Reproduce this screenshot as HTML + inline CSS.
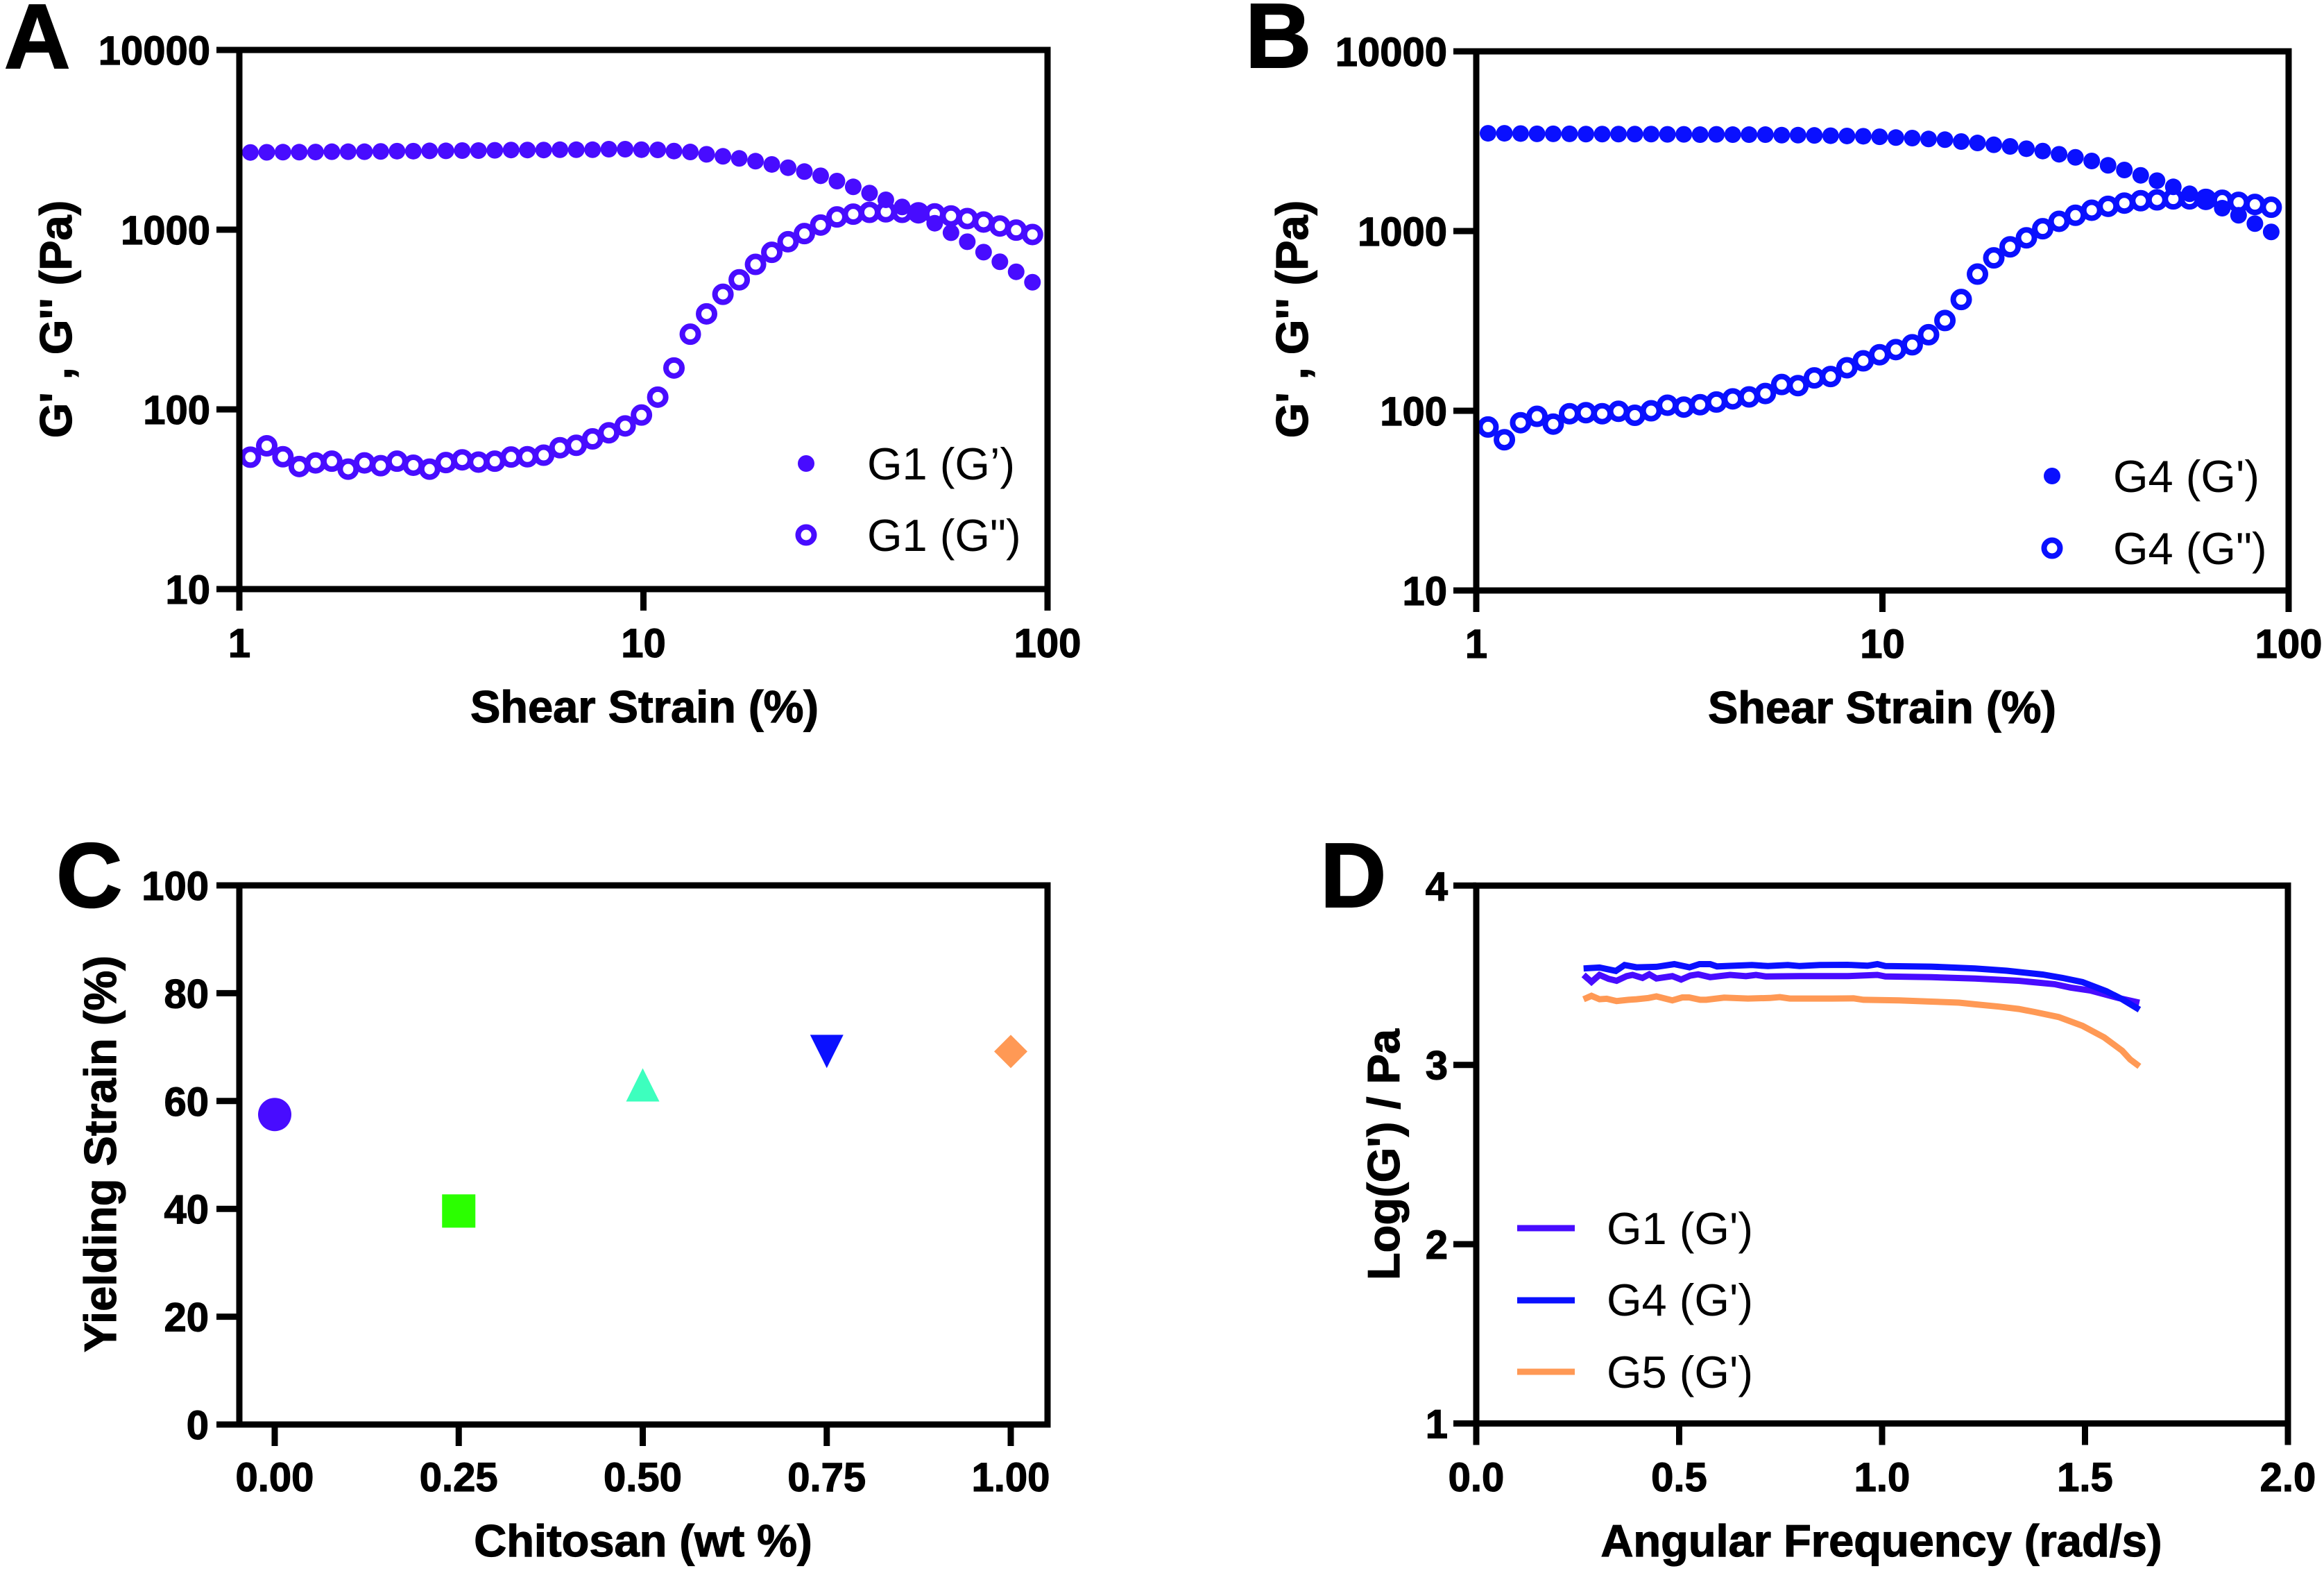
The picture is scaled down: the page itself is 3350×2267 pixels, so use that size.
<!DOCTYPE html>
<html lang="en">
<head>
<meta charset="utf-8">
<title>Rheology of chitosan hydrogels</title>
<style>
  html, body { margin: 0; padding: 0; background: #ffffff; }
  svg { display: block; }
  text { font-family: "Liberation Sans", Arial, sans-serif; fill: #000000; }
  .panel-letter { font-size: 132px; font-weight: 700; stroke: #000000; stroke-width: 2; }
  .axis-title { font-size: 65px; font-weight: 700; text-anchor: middle; stroke: #000000; stroke-width: 1.2; }
  .tick-label { font-size: 58px; font-weight: 700; stroke: #000000; stroke-width: 1.2; }
  .legend-label { font-size: 65px; font-weight: 400; }
  .frame { fill: none; stroke: #000000; stroke-width: 9; }
</style>
</head>
<body>
<svg id="figure" xmlns="http://www.w3.org/2000/svg" width="3350" height="2267" viewBox="0 0 3350 2267">
  <rect x="0" y="0" width="3350" height="2267" fill="#ffffff"/>

  <g id="panel-a">
    <text class="panel-letter" x="6" y="98">A</text>
    <text class="axis-title" x="929" y="1041">Shear Strain (%)</text>
    <text class="axis-title" transform="translate(103 460) rotate(-90)">G' , G'' (Pa)</text>
    <circle cx="1162" cy="668" r="12" fill="#480cff"/>
    <text class="legend-label" x="1250" y="691">G1 (G’)</text>
    <circle cx="1162" cy="771" r="11.5" fill="none" stroke="#480cff" stroke-width="8"/>
    <text class="legend-label" x="1250" y="794">G1 (G")</text>
  </g>

  <g id="panel-b">
    <text class="panel-letter" x="1795" y="97">B</text>
    <text class="axis-title" x="2713" y="1042">Shear Strain (%)</text>
    <text class="axis-title" transform="translate(1885 460) rotate(-90)">G' , G'' (Pa)</text>
    <circle cx="2958" cy="686" r="12" fill="#0a10ff"/>
    <text class="legend-label" x="3046" y="709">G4 (G')</text>
    <circle cx="2958" cy="790" r="11.5" fill="none" stroke="#0a10ff" stroke-width="8"/>
    <text class="legend-label" x="3046" y="813">G4 (G")</text>
  </g>

  <g id="panel-c">
    <text class="panel-letter" x="81" y="1307">C</text>
    <text class="axis-title" x="927" y="2243">Chitosan (wt %)</text>
    <text class="axis-title" transform="translate(167 1663) rotate(-90)">Yielding Strain (%)</text>
  </g>

  <g id="panel-d">
    <text class="panel-letter" x="1903" y="1307">D</text>
    <text class="axis-title" x="2712" y="2243">Angular Frequency (rad/s)</text>
    <text class="axis-title" transform="translate(2017 1664) rotate(-90)">Log(G') / Pa</text>
    <line x1="2187" y1="1770" x2="2270" y2="1770" stroke="#480cff" stroke-width="9"/>
    <text class="legend-label" x="2316" y="1793">G1 (G')</text>
    <line x1="2187" y1="1874" x2="2270" y2="1874" stroke="#0a10ff" stroke-width="9"/>
    <text class="legend-label" x="2316" y="1896">G4 (G')</text>
    <line x1="2187" y1="1977" x2="2270" y2="1977" stroke="#ff9955" stroke-width="9"/>
    <text class="legend-label" x="2316" y="2000">G5 (G')</text>
  </g>
</svg>

<script>
// ---------- Panel A data ----------
const strainA = [1.065,1.169,1.282,1.407,1.544,1.694,1.859,2.040,2.238,2.456,2.695,2.957,3.245,3.561,3.907,4.287,4.704,5.162,5.664,6.215,6.82,7.483,8.212,9.011,9.887,10.85,11.9,13.06,14.33,15.73,17.26,18.94,20.78,22.8,25.02,27.45,30.12,33.05,36.27,39.8,43.67,47.92,52.58,57.69,63.3,69.46,76.22,83.63,91.77];
const storageG1 = [2690,2695,2700,2700,2705,2715,2715,2715,2725,2735,2735,2745,2745,2755,2755,2765,2775,2775,2775,2785,2785,2785,2805,2805,2787,2780,2738,2706,2627,2559,2492,2405,2307,2212,2105,1995,1863,1731,1598,1466,1338,1241,1086,962,857,750,663,583,510];
const lossG1 = [54.2,62.7,54.5,48.1,50.4,51.5,46.5,50.4,48.6,51.5,48.9,46.5,50.6,52.4,50.9,51.5,54.3,54.5,55.6,61.2,63.1,68.5,74.1,80.9,93,117,170,262,340,437,526,641,748,857,951,1061,1177,1220,1249,1257,1249,1241,1224,1192,1153,1103,1048,994,940];

// ---------- Panel B data ----------
const strainB = [1.069,1.173,1.286,1.411,1.547,1.697,1.862,2.042,2.240,2.457,2.695,2.956,3.243,3.557,3.902,4.280,4.695,5.150,5.649,6.196,6.797,7.455,8.178,8.970,9.840,10.79,11.84,12.99,14.25,15.63,17.14,18.80,20.62,22.62,24.81,27.22,29.86,32.75,35.93,39.41,43.23,47.42,52.01,57.05,62.58,68.65,75.30,82.60,90.60];
const storageG4 = [3500,3500,3488,3476,3476,3476,3464,3464,3464,3464,3464,3452,3452,3440,3452,3440,3440,3440,3417,3417,3405,3393,3382,3370,3347,3312,3291,3254,3225,3148,3092,3020,2958,2872,2787,2675,2572,2455,2321,2187,2042,1908,1762,1612,1501,1341,1224,1100,989];
const lossG4 = [81.2,69.0,85.8,93.1,84.3,96.3,97.6,96.3,99.3,94.4,100,107.4,104.8,108.1,111.9,116.5,119.4,124.8,140,138,152.4,155.1,173.6,189.7,205,219,233,265,318,416,576,709,817,917,1030,1133,1224,1306,1373,1431,1475,1492,1510,1510,1501,1483,1444,1406,1357];

// ---------- Panel C data ----------
const chitosanContent = [0, 0.25, 0.5, 0.75, 1];
const yieldingStrain = [57.5, 39.6, 63, 69.2, 69.2];

// ---------- Panel D data ----------
const freqG1 = [0.2644,0.2840,0.3037,0.3262,0.3458,0.3704,0.3851,0.4096,0.4263,0.4439,0.4832,0.5048,0.5273,0.5469,0.5764,0.6254,0.6647,0.6892,0.7137,0.7971,0.9148,0.9884,1.008,1.1208,1.2287,1.3367,1.425,1.4642,1.5133,1.5819,1.634];
const logStorageG1 = [3.502,3.463,3.502,3.480,3.469,3.495,3.502,3.485,3.505,3.482,3.495,3.476,3.498,3.505,3.489,3.502,3.495,3.502,3.493,3.495,3.495,3.502,3.493,3.489,3.482,3.469,3.450,3.431,3.415,3.373,3.347];
const freqG4 = [0.2644,0.3037,0.3439,0.3655,0.3949,0.4439,0.4881,0.5254,0.5499,0.5764,0.5931,0.6794,0.7186,0.7677,0.7971,0.8462,0.9148,0.9639,0.9884,1.008,1.1208,1.2287,1.3072,1.3955,1.4446,1.4936,1.5525,1.5917,1.634];
const logStorageG4 = [3.538,3.543,3.524,3.557,3.544,3.547,3.562,3.544,3.562,3.562,3.549,3.557,3.551,3.557,3.551,3.557,3.558,3.553,3.562,3.551,3.548,3.538,3.525,3.504,3.485,3.462,3.411,3.366,3.308];
const freqG5 = [0.2644,0.284,0.3037,0.3213,0.3458,0.3753,0.3949,0.4243,0.4439,0.4832,0.5077,0.5244,0.5519,0.5666,0.6107,0.6696,0.7235,0.748,0.7726,0.8756,0.9295,0.9541,1.0424,1.1208,1.1895,1.2287,1.2876,1.3367,1.3759,1.4348,1.4936,1.5476,1.5917,1.6113,1.634];
const logStorageG5 = [3.366,3.385,3.366,3.369,3.356,3.363,3.366,3.373,3.382,3.360,3.376,3.376,3.363,3.363,3.375,3.370,3.373,3.378,3.370,3.370,3.371,3.363,3.360,3.353,3.347,3.338,3.325,3.312,3.295,3.267,3.218,3.153,3.079,3.030,2.992];

// ---------- Tick values and labels ----------
const logXTicks = [1, 10, 100];
const logXTickLabels = ["1", "10", "100"];
const logYTicks = [10, 100, 1000, 10000];
const logYTickLabels = ["10", "100", "1000", "10000"];
const cXTicks = [0, 0.25, 0.5, 0.75, 1];
const cXTickLabels = ["0.00", "0.25", "0.50", "0.75", "1.00"];
const cYTicks = [0, 20, 40, 60, 80, 100];
const cYTickLabels = ["0", "20", "40", "60", "80", "100"];
const dXTicks = [0, 0.5, 1, 1.5, 2];
const dXTickLabels = ["0.0", "0.5", "1.0", "1.5", "2.0"];
const dYTicks = [1, 2, 3, 4];
const dYTickLabels = ["1", "2", "3", "4"];

const SVG_NS = "http://www.w3.org/2000/svg";
const COLOR_PURPLE = "#480cff";
const COLOR_BLUE = "#0a10ff";
const COLOR_GREEN = "#2bff00";
const COLOR_TEAL = "#3dffbe";
const COLOR_ORANGE = "#ff9955";

function shape(tag, attrs, parent) {
  const node = document.createElementNS(SVG_NS, tag);
  Object.keys(attrs).forEach(function (k) { node.setAttribute(k, attrs[k]); });
  parent.appendChild(node);
  return node;
}

function linearScale(d0, p0, d1, p1) {
  return function (v) { return p0 + (v - d0) * (p1 - p0) / (d1 - d0); };
}
function logScale(d0, p0, d1, p1) {
  return function (v) {
    return p0 + (Math.log10(v) - Math.log10(d0)) * (p1 - p0) / (Math.log10(d1) - Math.log10(d0));
  };
}

function drawAxes(panel, o) {
  const frame = shape("rect", {
    "class": "frame",
    x: o.left, y: o.top, width: o.right - o.left, height: o.bottom - o.top
  }, panel);
  
  

  o.xTicks.forEach(function (t, i) {
    const px = o.x(t);
    const mark = shape("line", {
      x1: px, x2: px, y1: o.bottom, y2: o.bottom + 31, stroke: "#000", "stroke-width": 9
    }, panel);
    
    
    const label = shape("text", {
      "class": "tick-label", x: px, y: o.xLabelY, "text-anchor": "middle"
    }, panel);
    
    
    label.textContent = o.xLabels[i];
  });

  o.yTicks.forEach(function (t, i) {
    const py = o.y(t);
    const mark = shape("line", {
      x1: o.left - 33, x2: o.left, y1: py, y2: py, stroke: "#000", "stroke-width": 9
    }, panel);
    
    
    const label = shape("text", {
      "class": "tick-label", x: o.yLabelX, y: py + 21, "text-anchor": "end"
    }, panel);
    
    
    label.textContent = o.yLabels[i];
  });
}

function drawOpenPoints(panel, xs, ys, x, y, color) {
  xs.forEach(function (v, i) {
    const dot = shape("circle", {
      cx: x(v), cy: y(ys[i]), r: 11.5, fill: "none", stroke: color, "stroke-width": 8
    }, panel);
    
    
  });
}
function drawFilledPoints(panel, xs, ys, x, y, color) {
  xs.forEach(function (v, i) {
    const dot = shape("circle", { cx: x(v), cy: y(ys[i]), r: 12, fill: color }, panel);
    
    
  });
}
function drawLine(panel, xs, ys, x, y, color) {
  const pts = xs.map(function (v, i) { return x(v).toFixed(1) + "," + y(ys[i]).toFixed(1); }).join(" ");
  const path = shape("polyline", {
    points: pts, fill: "none", stroke: color, "stroke-width": 9, "stroke-linejoin": "miter"
  }, panel);
  
  
}

// ---------- Panel A ----------
const panelA = document.getElementById("panel-a");
const xA = logScale(1, 345, 100, 1510);
const yA = logScale(10, 849, 10000, 72);
drawOpenPoints(panelA, strainA, lossG1, xA, yA, COLOR_PURPLE);
drawFilledPoints(panelA, strainA, storageG1, xA, yA, COLOR_PURPLE);
drawAxes(panelA, {
  left: xA(1), right: xA(100), top: yA(10000), bottom: yA(10), x: xA, y: yA,
  xTicks: logXTicks, xLabels: logXTickLabels, yTicks: logYTicks, yLabels: logYTickLabels,
  xLabelY: 947, yLabelX: 303
});

// ---------- Panel B ----------
const panelB = document.getElementById("panel-b");
const xB = logScale(1, 2128, 100, 3299);
const yB = logScale(10, 851, 10000, 74);
drawOpenPoints(panelB, strainB, lossG4, xB, yB, COLOR_BLUE);
drawFilledPoints(panelB, strainB, storageG4, xB, yB, COLOR_BLUE);
drawAxes(panelB, {
  left: xB(1), right: xB(100), top: yB(10000), bottom: yB(10), x: xB, y: yB,
  xTicks: logXTicks, xLabels: logXTickLabels, yTicks: logYTicks, yLabels: logYTickLabels,
  xLabelY: 948, yLabelX: 2086
});

// ---------- Panel C ----------
const panelC = document.getElementById("panel-c");
const xC = linearScale(0, 396, 1, 1457);
const yC = linearScale(0, 2053, 100, 1276);
const HALF = 24;
const cColors = [COLOR_PURPLE, COLOR_GREEN, COLOR_TEAL, COLOR_BLUE, COLOR_ORANGE];

function drawYieldMarker(i) {
  const cx = xC(chitosanContent[i]);
  const cy = yC(yieldingStrain[i]);
  const color = cColors[i];
  if (i === 0) {
    const m = shape("circle", { cx: cx, cy: cy, r: HALF, fill: color }, panelC);
    
    
  } else if (i === 1) {
    const m = shape("rect", { x: cx - HALF, y: cy - HALF, width: 2 * HALF, height: 2 * HALF, fill: color }, panelC);
    
    
  } else if (i === 2) {
    const m = shape("polygon", {
      points: [cx, cy - HALF, cx + HALF, cy + HALF, cx - HALF, cy + HALF].join(" "), fill: color
    }, panelC);
    
    
  } else if (i === 3) {
    const m = shape("polygon", {
      points: [cx - HALF, cy - HALF, cx + HALF, cy - HALF, cx, cy + HALF].join(" "), fill: color
    }, panelC);
    
    
  } else {
    const m = shape("polygon", {
      points: [cx, cy - HALF, cx + HALF, cy, cx, cy + HALF, cx - HALF, cy].join(" "), fill: color
    }, panelC);
    
    
  }
}
chitosanContent.forEach(function (_, i) { drawYieldMarker(i); });
drawAxes(panelC, {
  left: 345, right: 1510, top: yC(100), bottom: yC(0), x: xC, y: yC,
  xTicks: cXTicks, xLabels: cXTickLabels, yTicks: cYTicks, yLabels: cYTickLabels,
  xLabelY: 2149, yLabelX: 301
});

// ---------- Panel D ----------
const panelD = document.getElementById("panel-d");
const xD = linearScale(0, 2128, 2, 3298);
const yD = linearScale(1, 2051.5, 4, 1276.3);
drawLine(panelD, freqG5, logStorageG5, xD, yD, COLOR_ORANGE);
drawLine(panelD, freqG1, logStorageG1, xD, yD, COLOR_PURPLE);
drawLine(panelD, freqG4, logStorageG4, xD, yD, COLOR_BLUE);
drawAxes(panelD, {
  left: xD(0), right: xD(2), top: yD(4), bottom: yD(1), x: xD, y: yD,
  xTicks: dXTicks, xLabels: dXTickLabels, yTicks: dYTicks, yLabels: dYTickLabels,
  xLabelY: 2149, yLabelX: 2087
});
</script>
</body>
</html>
